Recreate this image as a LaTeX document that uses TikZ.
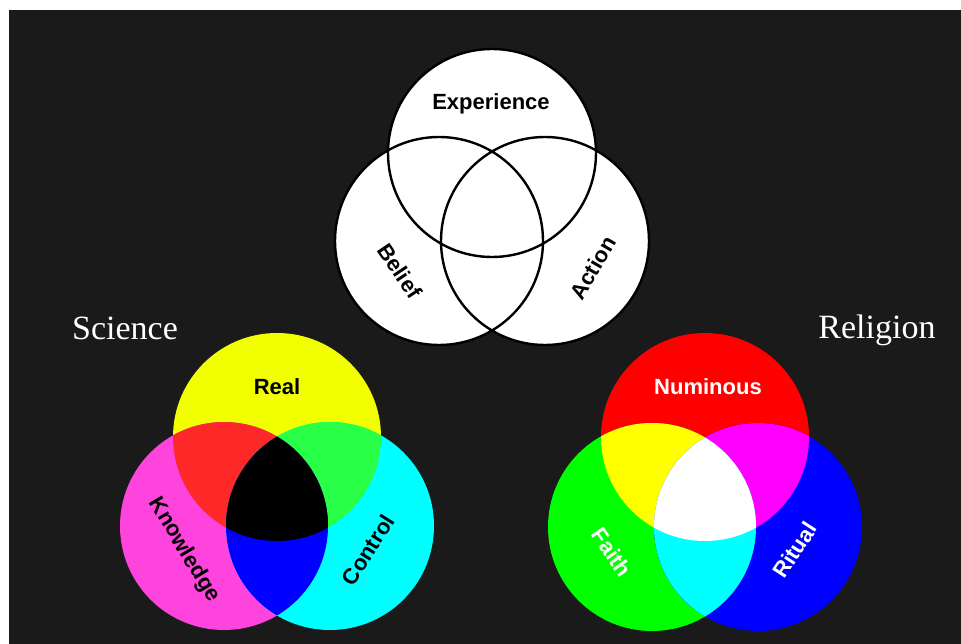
\documentclass[tikz,border=0pt]{standalone}
\usepackage{fontspec}
\setmainfont{Liberation Serif}
\newfontfamily\lsans{Liberation Sans}
\definecolor{bg}{HTML}{1A1A1A}
\definecolor{sYel}{HTML}{F2FF00}
\definecolor{sMag}{HTML}{FF44DD}
\definecolor{sCya}{HTML}{00FFFF}
\definecolor{sRed}{HTML}{FF2828}
\definecolor{sGrn}{HTML}{28FF46}
\definecolor{sBlu}{HTML}{0000FF}
\definecolor{rRed}{HTML}{FF0000}
\definecolor{rGrn}{HTML}{00FF00}
\definecolor{rBlu}{HTML}{0000FF}
\definecolor{rYel}{HTML}{FFFF00}
\definecolor{rMag}{HTML}{FF00FF}
\definecolor{rCya}{HTML}{00FFFF}
\begin{document}
\begin{tikzpicture}[x=1pt,y=-1pt,
  lbl/.style={font=\lsans\bfseries\fontsize{22}{24}\selectfont,inner sep=0pt},
  title/.style={font=\fontsize{34}{38}\selectfont,text=white,inner sep=0pt,anchor=base},
  ring/.style={draw=black,line width=2.4pt}]
\def\R{104pt}
\useasboundingbox (0,0) rectangle (961,644);
\fill[white] (0,0) rectangle (961,644);
\fill[bg] (9,10) rectangle (961,644);
% ---------- top Venn ----------
\coordinate (E) at (492,153);
\coordinate (B) at (439,241);
\coordinate (A) at (545,241);
\fill[white] (E) circle (\R) (B) circle (\R) (A) circle (\R);
\draw[ring] (E) circle (\R) (B) circle (\R) (A) circle (\R);
\node[lbl] (exp) at (491,104) {Experience};
\node[lbl,rotate=-56] (bel) at (400,271) {Belief};
\node[lbl,rotate=60] (act) at (593,268) {Action};
% ---------- Science ----------
\coordinate (SR) at (277,437);
\coordinate (SK) at (224,526);
\coordinate (SC) at (330,526);
\fill[sYel] (SR) circle (\R);
\fill[sMag] (SK) circle (\R);
\fill[sCya] (SC) circle (\R);
\begin{scope}\clip (SR) circle (\R); \fill[sRed] (SK) circle (\R); \fill[sGrn] (SC) circle (\R); \end{scope}
\begin{scope}\clip (SK) circle (\R); \fill[sBlu] (SC) circle (\R); \end{scope}
\begin{scope}\clip (SR) circle (\R); \clip (SK) circle (\R); \fill[black] (SC) circle (\R); \end{scope}
\node[lbl] (real) at (277,387) {Real};
\node[lbl,rotate=-59] (know) at (184,550) {Knowledge};
\node[lbl,rotate=58] (ctrl) at (368,550) {Control};
\node[title] (sci) at (125,339) {Science};
% ---------- Religion ----------
\coordinate (RN) at (705,437);
\coordinate (RF) at (652,527);
\coordinate (RR) at (758,527);
\fill[rRed] (RN) circle (\R);
\fill[rGrn] (RF) circle (\R);
\fill[rBlu] (RR) circle (\R);
\begin{scope}\clip (RN) circle (\R); \fill[rYel] (RF) circle (\R); \fill[rMag] (RR) circle (\R); \end{scope}
\begin{scope}\clip (RF) circle (\R); \fill[rCya] (RR) circle (\R); \end{scope}
\begin{scope}\clip (RN) circle (\R); \clip (RF) circle (\R); \fill[white] (RR) circle (\R); \end{scope}
\node[lbl,text=white] (num) at (708,387) {Numinous};
\node[lbl,text=white,rotate=-55] (fai) at (612,552) {Faith};
\node[lbl,text=white,rotate=57] (rit) at (795,550) {Ritual};
\node[title] (rel) at (877,338) {Religion};
\end{tikzpicture}
\end{document}
